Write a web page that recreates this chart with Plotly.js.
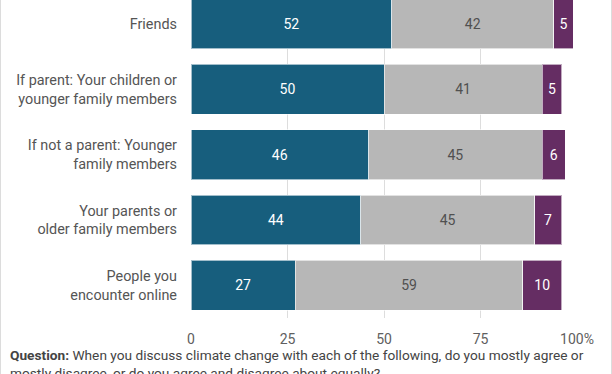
<!DOCTYPE html>
<html>
<head>
<meta charset="utf-8">
<script src="https://cdn.plot.ly/plotly-3.0.1.min.js"></script>
<style>
html,body{margin:0;padding:0;background:#fff;}
#chart{width:612px;height:374px;box-sizing:border-box;border-left:1px solid #dcdcdc;border-right:1px solid #dcdcdc;}
</style>
</head>
<body>
<div id="chart"></div>
<script>
const categories = [
  "Friends",
  "If parent: Your children or<br>younger family members",
  "If not a parent: Younger<br>family members",
  "Your parents or<br>older family members",
  "People you<br>encounter online"
];
const mostlyAgree = [52, 50, 46, 44, 27];
const aboutEqually = [42, 41, 45, 45, 59];
const mostlyDisagree = [5, 5, 6, 7, 10];
const tickVals = [0, 25, 50, 75, 100];
const tickLabels = ["0", "25", "50", "75", "100%"];
const question = "<b>Question:</b> When you discuss climate change with each of the following, do you mostly agree or<br>mostly disagree, or do you agree and disagree about equally?";

function series(name, vals, color, txtColor) {
  return {
    type: "bar", orientation: "h", name: name,
    y: categories, x: vals,
    text: vals.map(String),
    textposition: "inside", insidetextanchor: "middle",
    constraintext: "none",
    textfont: {family: "Roboto", size: 14, color: txtColor},
    marker: {color: color, line: {color: "rgba(255,255,255,0.6)", width: 1}},
    hoverinfo: "skip"
  };
}

const data = [
  series("Mostly agree", mostlyAgree, "#175E7D", "#ffffff"),
  series("About equally", aboutEqually, "#B7B7B7", "#505050"),
  series("Mostly disagree", mostlyDisagree, "#652D63", "#ffffff")
];

const layout = {
  width: 610, height: 374,
  barmode: "stack", bargap: 0.237,
  showlegend: false,
  paper_bgcolor: "#ffffff", plot_bgcolor: "#ffffff",
  font: {family: "Roboto", size: 13, color: "#555"},
  margin: {l: 190, r: 34, t: 0, b: 56},
  xaxis: {
    range: [0, 100], tickvals: tickVals, ticktext: tickLabels,
    showgrid: true, gridcolor: "#dddddd", gridwidth: 1,
    zeroline: false, showline: false, ticks: "",
    ticklabelstandoff: 11,
    tickfont: {family: "Roboto", size: 14, color: "#606060"},
    fixedrange: true
  },
  yaxis: {
    type: "category", categoryorder: "array", categoryarray: categories,
    range: [4.5, -0.366], autorange: false,
    showgrid: false, zeroline: false, showline: false, ticks: "",
    ticklabelstandoff: 13,
    tickfont: {family: "Roboto", size: 14.4, color: "#555"},
    fixedrange: true
  },
  annotations: [{
    xref: "paper", yref: "paper",
    x: -0.473, y: -0.086, xanchor: "left", yanchor: "top",
    align: "left", showarrow: false,
    text: question,
    font: {family: "Roboto", size: 13.7, color: "#444"}
  }]
};

Plotly.newPlot("chart", data, layout, {displayModeBar: false, staticPlot: true});
</script>
</body>
</html>
